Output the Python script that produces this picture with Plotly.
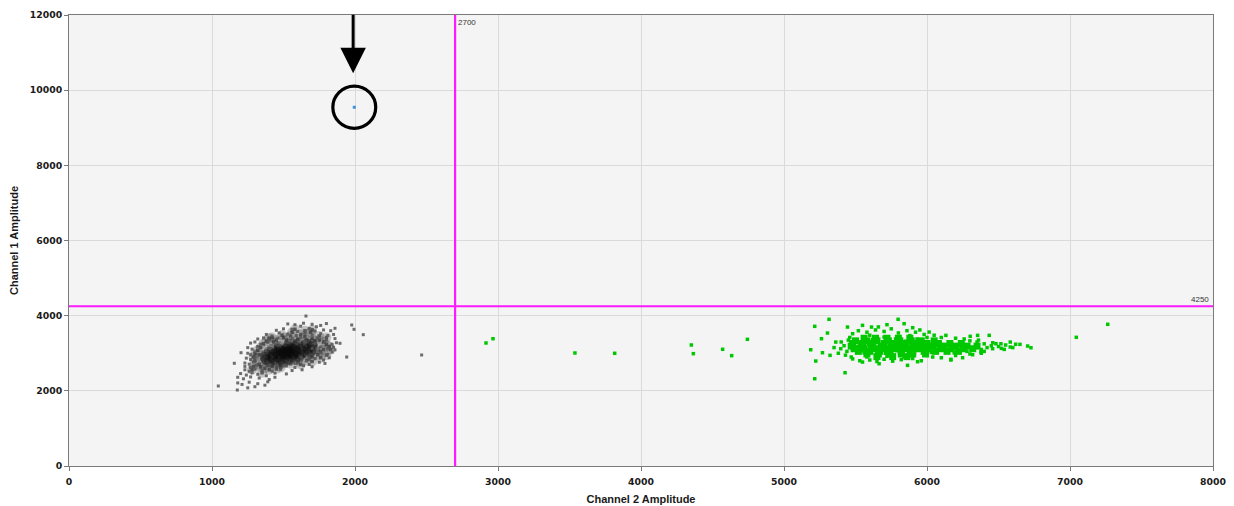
import plotly.graph_objects as go

# ---- Droplet amplitudes (Channel 2 = x, Channel 1 = y) ----
# Double-negative droplets: sparse outer droplets
neg_edge_ch2 = [1657, 1530, 1580, 1640, 1700, 1760, 1800, 1977, 1993, 1860, 1620, 1730,
                1450, 1500, 1560, 1680, 1780, 1830, 1720, 1600,
                1380, 1420, 1470, 1530, 1650, 1700, 1760, 1810, 1850, 1590,
                1320, 1360, 1400, 1460, 1560, 1620, 1740, 1800, 1860, 1895, 2058,
                1270, 1300, 1340, 1390, 1650, 1720, 1790, 1840, 1870,
                1250, 1280, 1320, 1760, 1810, 1850, 1860, 1700,
                1203, 1250, 1270, 1300, 1760, 1810, 1840, 1942, 2466,
                1156, 1240, 1270, 1300, 1720, 1780, 1820, 1680,
                1230, 1260, 1290, 1600, 1680, 1750, 1790,
                1230, 1270, 1310, 1520, 1580, 1640, 1700,
                1230, 1260, 1300, 1350, 1420, 1480, 1560, 1630,
                1200, 1240, 1280, 1320, 1380, 1440, 1520,
                1180, 1220, 1270, 1330, 1400, 1440,
                1180, 1210, 1260, 1320, 1370, 1390,
                1044, 1177, 1250, 1300]
neg_edge_ch1 = [3990, 3780, 3760, 3800, 3770, 3740, 3790, 3752, 3637, 3664, 3720, 3705,
                3610, 3650, 3630, 3660, 3620, 3600, 3590, 3580,
                3500, 3460, 3540, 3510, 3530, 3480, 3520, 3470, 3500, 3470,
                3380, 3410, 3360, 3400, 3390, 3420, 3400, 3360, 3390, 3265, 3494,
                3270, 3300, 3240, 3290, 3300, 3260, 3290, 3240, 3280,
                3150, 3110, 3180, 3170, 3120, 3160, 3090, 3130,
                3015, 3000, 2960, 3040, 3010, 2970, 3030, 2900, 2954,
                2733, 2870, 2830, 2890, 2860, 2820, 2880, 2830,
                2740, 2710, 2770, 2740, 2700, 2760, 2730,
                2650, 2620, 2680, 2660, 2620, 2670, 2640,
                2560, 2520, 2580, 2540, 2520, 2570, 2540, 2560,
                2460, 2420, 2480, 2440, 2400, 2470, 2450,
                2360, 2320, 2370, 2340, 2300, 2360,
                2210, 2170, 2230, 2190, 2150, 2240,
                2129, 2022, 2080, 2110]

# Double-negative droplets: body of the cluster
neg_mid_ch2 = [1400, 1450, 1500, 1550, 1600, 1650, 1700, 1750, 1780, 1800, 1820, 1780,
               1760, 1740, 1700, 1660, 1600, 1550, 1480, 1420, 1370, 1330, 1300, 1290,
               1300, 1320, 1340, 1360, 1380, 1430, 1520, 1580, 1660, 1720, 1480, 1400,
               1350, 1450, 1520, 1620, 1700, 1760, 1800, 1830, 1350, 1330, 1420, 1490,
               1620, 1690, 1560, 1750, 1800, 1340, 1280, 1380, 1290, 1650, 1580, 1700]
neg_mid_ch1 = [3400, 3350, 3420, 3460, 3380, 3440, 3400, 3350, 3300, 3230, 3180, 3100,
               3050, 2960, 2900, 2800, 2780, 2720, 2700, 2650, 2600, 2700, 2800, 2900,
               2980, 3080, 3150, 3250, 3320, 3300, 3350, 3320, 3350, 3330, 2620, 2560,
               2480, 2580, 2780, 2700, 2780, 2880, 2950, 3100, 2850, 2960, 3420, 3480,
               3500, 3560, 3560, 3460, 3420, 2640, 2560, 2760, 2650, 3600, 3640, 3620]

# Double-negative droplets: dense core
neg_core_ch2 = [1540, 1600, 1660, 1700,
                1470, 1530, 1580, 1640, 1700,
                1420, 1470, 1520, 1570, 1620, 1670, 1720,
                1400, 1450, 1500, 1540, 1590, 1640, 1690,
                1380, 1430, 1480, 1520, 1570, 1620, 1670,
                1370, 1420, 1460, 1510, 1560, 1610,
                1380, 1430, 1480, 1530, 1580,
                1400, 1450, 1500,
                1480, 1530, 1580, 1460, 1510, 1560, 1500, 1540, 1550]
neg_core_ch1 = [3250, 3250, 3250, 3250,
                3180, 3180, 3180, 3180, 3180,
                3110, 3110, 3110, 3110, 3110, 3110, 3110,
                3040, 3040, 3040, 3040, 3040, 3040, 3040,
                2970, 2970, 2970, 2970, 2970, 2970, 2970,
                2900, 2900, 2900, 2900, 2900, 2900,
                2830, 2830, 2830, 2830, 2830,
                2760, 2760, 2760,
                3060, 3060, 3060, 2990, 2990, 2990, 3010, 3010, 3120]

# Channel-2 positive droplets: scattered droplets
pos_ch2 = [2916, 2965, 3538, 3816, 4352, 4366, 4571, 4634, 4744, 7044, 7264,
           5215, 5315, 5215, 5427, 5187, 5222, 5262, 5304, 5269, 5322, 5362, 5397,
           5444, 5549, 5612, 5798, 5840, 5549, 5665, 5864, 5934, 6167,
           6132, 6302, 6354, 6435, 6517, 6582, 6582, 6650, 6704, 6727, 6540, 6167,
           6249, 6377, 6459, 6482, 6319, 6015,
           5480, 5520, 5580, 5640, 5700, 5750, 5800, 5860, 5920, 5980, 6050, 6100,
           6200, 6260, 5660, 5720, 5900, 5950, 5600, 5880, 6000,
           5480, 5530, 5600, 5650, 5700, 5760, 5820, 5900, 5960, 6040, 6100, 6200,
           6300, 6380, 5580, 5720, 5840, 6000,
           5420, 5440, 5450, 5430, 5460, 5400, 5380, 5350, 5470,
           6350, 6400, 6420, 6450, 6380, 6500, 6550, 6600, 6620, 6360, 6300, 6280,
           6400, 6460, 6520,
           5510, 5590, 5660, 5730, 5790, 5860, 5940, 6020, 6100, 6180, 6260, 5540,
           5620, 5700, 5780, 5850, 5930, 6010, 5560, 5640, 5710, 5790, 5870, 5950,
           6030, 6110, 6190, 6270]
pos_ch1 = [3273, 3387, 3007, 2999, 3220, 2989, 3105, 2936, 3371, 3424, 3770,
           3716, 3903, 2322, 2482, 3094, 2793, 3387, 3538, 3014, 2944, 3298, 3121,
           3697, 3742, 3697, 3903, 3786, 2766, 2722, 2678, 2775, 2820,
           3476, 3450, 3476, 3476, 3253, 3298, 3165, 3237, 3192, 3147, 3103, 2838,
           2881, 3032, 3121, 3253, 2961, 3564,
           3520, 3600, 3560, 3620, 3580, 3650, 3540, 3600, 3560, 3500, 3480, 3420,
           3400, 3380, 3700, 3760, 3680, 3620, 3480, 3470, 3420,
           2850, 2800, 2820, 2780, 2840, 2790, 2830, 2860, 2800, 2900, 2880, 2940,
           2980, 3000, 2900, 2920, 2900, 2960,
           3200, 3050, 3350, 2950, 3420, 3300, 3000, 3150, 2900,
           3300, 3250, 3150, 3200, 3100, 3180, 3220, 3150, 3240, 3350, 3330, 3050,
           3050, 3280, 3130,
           3170, 3230, 3160, 3290, 3220, 3150, 3230, 3160, 3230, 3150, 3230, 3300,
           3370, 3430, 3380, 3320, 3380, 3300, 3010, 2940, 3000, 3070, 2990, 3080,
           3020, 3080, 3010, 3100]

# Channel-2 positive droplets: dense body
pos_core_ch2 = [5560, 5640, 5720, 5800, 5880,
                5500, 5580, 5650, 5730, 5810, 5890, 5960, 6050,
                5480, 5550, 5620, 5700, 5770, 5850, 5920, 6000, 6080, 6160, 6240,
                5470, 5540, 5610, 5680, 5750, 5820, 5900, 5970, 6040, 6120, 6200, 6280, 6350,
                5490, 5560, 5630, 5710, 5780, 5860, 5930, 6010, 6090, 6170, 6250, 6320,
                5520, 5600, 5670, 5740, 5820, 5900, 5980, 6060, 6140, 6220,
                5580, 5660, 5740, 5820, 5900, 5990,
                5650, 5760, 5860]
pos_core_ch1 = [3400, 3400, 3400, 3400, 3400,
                3330, 3330, 3330, 3330, 3330, 3330, 3330, 3330,
                3260, 3260, 3260, 3260, 3260, 3260, 3260, 3260, 3260, 3260, 3260,
                3190, 3190, 3190, 3190, 3190, 3190, 3190, 3190, 3190, 3190, 3190, 3190, 3190,
                3120, 3120, 3120, 3120, 3120, 3120, 3120, 3120, 3120, 3120, 3120, 3120,
                3050, 3050, 3050, 3050, 3050, 3050, 3050, 3050, 3050, 3050,
                2980, 2980, 2980, 2980, 2980, 2980,
                2910, 2910, 2910]

# Channel-1 positive droplet
ch1_pos_ch2 = [1995]
ch1_pos_ch1 = [9545]

# Thresholds and axis ticks
ch2_threshold = 2700
ch1_threshold = 4250
x_ticks = [0, 1000, 2000, 3000, 4000, 5000, 6000, 7000, 8000]
y_ticks = [0, 2000, 4000, 6000, 8000, 10000, 12000]

GREEN = "#00c800"
MAGENTA = "#ff1aff"
TICK_FONT = dict(family="DejaVu Sans", size=9.3, color="#1a1a1a", weight="bold")
TITLE_FONT = dict(family="Liberation Sans", size=11, color="#1a1a1a", weight="bold")

fig = go.Figure()

# double-negative cloud: soft halo, body, core and sparse outliers
fig.add_trace(go.Scatter(
    x=neg_mid_ch2 + neg_core_ch2, y=neg_mid_ch1 + neg_core_ch1, mode="markers",
    hoverinfo="skip",
    marker=dict(symbol="circle", size=10, color="rgba(70,70,70,0.28)", line=dict(width=0))))
fig.add_trace(go.Scatter(
    x=neg_core_ch2, y=neg_core_ch1, mode="markers", hoverinfo="skip",
    marker=dict(symbol="circle", size=11, color="rgba(10,10,10,0.30)", line=dict(width=0))))
fig.add_trace(go.Scatter(
    x=neg_mid_ch2, y=neg_mid_ch1, mode="markers", hoverinfo="skip",
    marker=dict(symbol="square", size=3.5, color="rgba(50,50,50,0.7)", line=dict(width=0))))
fig.add_trace(go.Scatter(
    x=neg_edge_ch2, y=neg_edge_ch1, mode="markers", hoverinfo="skip",
    marker=dict(symbol="square", size=3, color="rgba(85,85,85,0.85)", line=dict(width=0))))

# Channel-2 positive cloud
fig.add_trace(go.Scatter(
    x=pos_core_ch2, y=pos_core_ch1, mode="markers", hoverinfo="skip",
    marker=dict(symbol="square", size=7, color=GREEN, line=dict(width=0))))
fig.add_trace(go.Scatter(
    x=pos_ch2, y=pos_ch1, mode="markers", hoverinfo="skip",
    marker=dict(symbol="square", size=3.5, color=GREEN, line=dict(width=0))))

fig.add_trace(go.Scatter(
    x=ch1_pos_ch2, y=ch1_pos_ch1, mode="markers", hoverinfo="skip",
    marker=dict(symbol="square", size=3, color="#3f8fe0", line=dict(width=0))))

# Threshold lines
fig.add_shape(type="line", xref="x", yref="paper", x0=ch2_threshold, x1=ch2_threshold,
              y0=0, y1=1, line=dict(color=MAGENTA, width=2.2), layer="above")
fig.add_shape(type="line", xref="paper", yref="y", x0=0, x1=1,
              y0=ch1_threshold, y1=ch1_threshold, line=dict(color=MAGENTA, width=2.2),
              layer="above")
fig.add_annotation(x=ch2_threshold, y=1, xref="x", yref="paper", text=str(ch2_threshold),
                   showarrow=False, xanchor="left", yanchor="top", xshift=1, yshift=-1,
                   font=dict(family="Liberation Sans", size=8, color="#333333"))
fig.add_annotation(x=1, y=ch1_threshold, xref="paper", yref="y", text=str(ch1_threshold),
                   showarrow=False, xanchor="right", yanchor="bottom", xshift=-2, yshift=0,
                   font=dict(family="Liberation Sans", size=8, color="#333333"))

# Highlight of the single Channel-1 positive droplet
fig.add_shape(type="circle", xref="x", yref="y",
              x0=ch1_pos_ch2[0] - 150, x1=ch1_pos_ch2[0] + 150,
              y0=ch1_pos_ch1[0] - 560, y1=ch1_pos_ch1[0] + 560,
              line=dict(color="black", width=3.2))
fig.add_annotation(x=ch1_pos_ch2[0] - 8, y=10450, xref="x", yref="y", text="",
                   showarrow=True, arrowhead=2, arrowsize=1.7, arrowwidth=3,
                   arrowcolor="black", ax=0, ay=-60, axref="pixel", ayref="pixel")

axis_common = dict(
    showgrid=True, gridcolor="#dadada", gridwidth=1,
    showline=True, linecolor="#7a7a7a", linewidth=1, mirror=True,
    ticks="outside", ticklen=4, tickcolor="#7a7a7a",
    tickfont=TICK_FONT, zeroline=False, automargin=False,
)

fig.update_xaxes(range=[0, 8000], tickvals=x_ticks, ticktext=[str(v) for v in x_ticks],
                 ticklabelstandoff=3,
                 title=dict(text="Channel 2 Amplitude", standoff=9, font=TITLE_FONT),
                 **axis_common)
fig.update_yaxes(range=[0, 12000], tickvals=y_ticks, ticktext=[str(v) for v in y_ticks],
                 title=dict(text="Channel 1 Amplitude", standoff=8, font=TITLE_FONT),
                 **axis_common)

fig.update_layout(
    width=1234, height=506,
    margin=dict(l=69, r=21, t=15, b=40, pad=0),
    paper_bgcolor="white", plot_bgcolor="#f4f4f4",
    showlegend=False,
)

fig.write_html("out.html")
